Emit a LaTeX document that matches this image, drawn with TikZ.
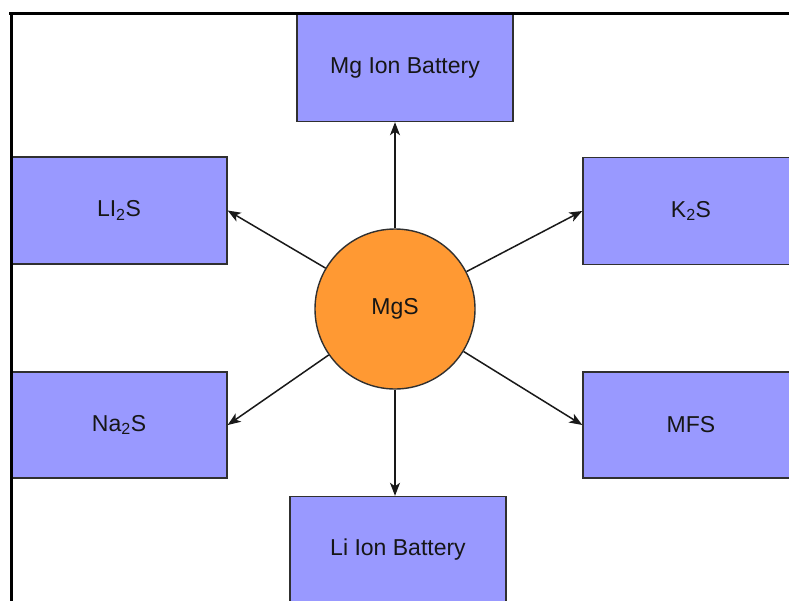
\documentclass[tikz,border=0pt]{standalone}
\usepackage{fontspec}
\setmainfont{Liberation Sans}
\usetikzlibrary{arrows.meta}
\definecolor{boxfill}{HTML}{9999FF}
\definecolor{circfill}{HTML}{FF9933}
\definecolor{edgegray}{HTML}{303030}
\definecolor{txt}{HTML}{161616}
\begin{document}
\begin{tikzpicture}[x=1pt,y=-1pt,
  box/.style={draw=edgegray, line width=1.4pt, fill=boxfill, minimum width=216pt,
    minimum height=107pt, inner sep=0pt, text=txt, font=\fontsize{23}{27}\selectfont},
  hub/.style={circle, draw=edgegray, line width=1.4pt, fill=circfill, minimum size=160pt,
    inner sep=0pt, text=txt, font=\fontsize{23}{27}\selectfont},
  arr/.style={draw=black!90, line width=1.5pt, -{Stealth[length=13pt,width=10pt,inset=3.5pt]}},
  frame/.style={draw=black, line width=3pt}]
\useasboundingbox (0,0) rectangle (789,600);
\clip (0,0) rectangle (789,600);
\fill[white] (0,0) rectangle (789,600);

\node[box] (mg) at (405,68) {Mg Ion Battery};
\node[box] (li2s) at (119,210.5) {LI\textsubscript{2}S};
\node[box] (k2s) at (691,211) {K\textsubscript{2}S};
\node[box, minimum height=106pt] (na2s) at (119,425) {Na\textsubscript{2}S};
\node[box, minimum height=106pt] (mfs) at (691,425) {MFS};
\node[box] (li) at (398,550) {Li Ion Battery};
\node[hub] (c) at (395,309) {MgS};

\draw[arr] (c.north) -- (c.north |- mg.south);
\draw[arr] (c.south) -- (c.south |- li.north);
\draw[arr] (c) -- (li2s.east);
\draw[arr] (c) -- (k2s.west);
\draw[arr] (c) -- (na2s.east);
\draw[arr] (c) -- (mfs.west);

\coordinate (f1) at (9,13);
\coordinate (f2) at (800,13);
\coordinate (f3) at (11,13);
\coordinate (f4) at (11,610);
\draw[frame] (f1) -- (f2);
\draw[frame] (f3) -- (f4);
\end{tikzpicture}
\end{document}
